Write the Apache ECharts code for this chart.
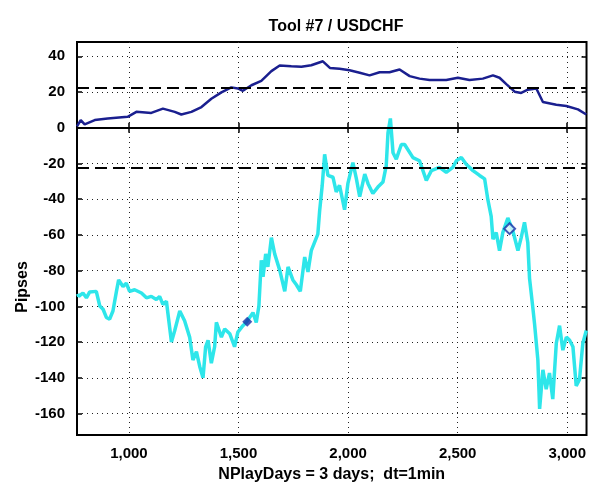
<!DOCTYPE html>
<html>
<head>
<meta charset="utf-8">
<script src="https://cdn.jsdelivr.net/npm/echarts@6/dist/echarts.min.js"></script>
<style>
  html, body { margin: 0; padding: 0; background: #fff; }
  #chart { width: 589px; height: 488px; }
</style>
</head>
<body>
<div id="chart"></div>
<script>
  // upper curve (dark blue)
  var blueX = [763, 780, 798, 844, 903, 994, 1034, 1102, 1155, 1209, 1239, 1285, 1331, 1376, 1422, 1467, 1497, 1520, 1559, 1604,
    1650, 1688, 1741, 1787, 1832, 1885, 1917, 1961, 2007, 2053, 2098, 2144, 2189, 2235, 2281, 2326, 2372, 2448, 2501, 2554,
    2615, 2661, 2691, 2722, 2760, 2790, 2820, 2859, 2889, 2950, 2996, 3049, 3087]
  var blueY = [0.7, 4.3, 1.9, 4.3, 5.2, 6.1, 8.9, 8.3, 10.7, 8.9, 7.4, 8.9, 11.6, 16.2, 19.8, 22.6, 22, 20.7, 23.8, 26.2,
    31.7, 34.8, 34.4, 34.1, 35, 37.2, 33.5, 33, 32.2, 30.8, 29.3, 31.1, 31.1, 32.6, 28.9, 27.5, 26.7, 26.7, 28, 26.7,
    27.5, 29.3, 28, 24.4, 20.2, 19.5, 21.3, 22, 14.4, 12.9, 12.2, 10.3, 7.4]

  // lower curve (cyan)
  var cyanX = [766, 771, 790, 806, 821, 851, 867, 882, 897, 912, 927, 943, 953, 973, 988, 1003, 1026, 1057, 1080, 1102,
    1125, 1140, 1155, 1171, 1194, 1209, 1232, 1254, 1277, 1292, 1308, 1323, 1338, 1350, 1361, 1376, 1391, 1399, 1422, 1437,
    1460, 1482, 1497, 1520, 1536, 1566, 1581, 1593, 1604, 1612, 1624, 1634, 1650, 1665, 1688, 1711, 1726, 1748, 1764, 1782,
    1802, 1817, 1832, 1847, 1862, 1870, 1882, 1893, 1908, 1931, 1946, 1961, 1984, 1999, 2022, 2038, 2053, 2076, 2091, 2113,
    2136, 2159, 2174, 2182, 2193, 2205, 2220, 2243, 2258, 2296, 2326, 2357, 2380, 2417, 2448, 2478, 2494, 2517, 2539, 2570,
    2600, 2623, 2638, 2653, 2661, 2676, 2691, 2706, 2729, 2752, 2775, 2790, 2805, 2820, 2828, 2843, 2851, 2866, 2874, 2889,
    2904, 2919, 2934, 2950, 2965, 2980, 2996, 3011, 3026, 3041, 3056, 3071, 3087]
  var cyanY = [-93, -94.4, -92.5, -95.2, -91.9, -91.6, -99.8, -101.6, -106.2, -107.1, -102.6, -91.6, -85.2, -88.9, -87, -91.6, -90.7, -92.5, -95.2, -94.4,
    -96.2, -94.4, -98.9, -97.1, -119.9, -113.5, -102.6, -108.1, -117.2, -130, -125.4, -133.6, -140, -122.6, -119, -131.8, -122.6, -108.9, -117.2, -112.6,
    -115.3, -122.6, -114.4, -110.8, -108.9, -103.5, -109, -99.8, -74.2, -83.4, -70.6, -77.9, -61.5, -70.6, -79.7, -91.6, -77.9, -85.2, -87.9, -91.6,
    -72.4, -80.7, -68.8, -64.2, -59.6, -46.8, -32.2, -14.9, -26.7, -27.7, -35.9, -32.2, -45.9, -31.3, -19.5, -28.6, -38.6, -25.9, -31.3, -36.8,
    -33.2, -30.4, -21.3, -3, 5.2, -14, -17.6, -9.4, -9.4, -16.7, -18.5, -29.5, -24, -22.2, -24.9, -22.2, -18.5, -16.7, -20.4, -24,
    -26.7, -28.6, -40.4, -49.6, -62.4, -58.7, -68.8, -58.7, -50.5, -57.8, -68.8, -61.5, -52.9, -64.2, -84.3, -100.7, -109.9, -130, -157.4, -135.5,
    -146.4, -137.3, -151.9, -120.8, -110.8, -124.5, -117.2, -119, -122.6, -144.5, -140.9, -120.8, -113.5]

  // markers
  var entryX = [1540]
  var entryY = [-108.6]
  var exitX = [2737]
  var exitY = [-56.5]

  // reference levels
  var zeroLevel = 0
  var bandLevels = [22.5, -22.5]

  // ticks
  var xTicks = [1000, 1500, 2000, 2500, 3000]
  var yTicks = [-160, -140, -120, -100, -80, -60, -40, -20, 0, 20, 40]

  function pairs (xs, ys) {
    var out = []
    for (var i = 0; i < xs.length; i++) {
      out.push([xs[i], ys[i]])
    }
    return out
  }

  var font = 'Liberation Sans, Arial, sans-serif'
  var tickText = { color: '#000', fontFamily: font, fontWeight: 'bold', fontSize: 15 }
  var dotted = { color: '#222', width: 1, type: [1, 4] }

  var levelLines = [{ yAxis: zeroLevel, lineStyle: { type: 'solid', width: 2, color: '#000' } }]
  bandLevels.forEach(function (v) {
    levelLines.push({ yAxis: v, lineStyle: { type: [12, 6], width: 2, color: '#000' } })
  })

  var chart = echarts.init(document.getElementById('chart'), null, { renderer: 'canvas' })
  var option = {
    animation: false,
    backgroundColor: '#fff',
    title: {
      text: 'Tool #7 / USDCHF',
      left: 331,
      top: 14,
      textAlign: 'center',
      textStyle: { color: '#000', fontFamily: font, fontWeight: 'bold', fontSize: 16 }
    },
    graphic: [{
      type: 'text',
      x: 23,
      y: 287,
      rotation: Math.PI / 2,
      style: {
        text: 'Pipses',
        fill: '#000',
        font: 'bold 16px ' + font,
        textAlign: 'center',
        textVerticalAlign: 'middle'
      }
    }],
    grid: {
      left: 77,
      right: 2,
      top: 42,
      bottom: 44,
      show: true,
      borderColor: '#000',
      borderWidth: 2,
      backgroundColor: '#fff'
    },
    xAxis: [{
      type: 'value',
      min: 763,
      max: 3088,
      name: 'NPlayDays = 3 days;  dt=1min',
      nameLocation: 'middle',
      nameGap: 32,
      nameTextStyle: { color: '#000', fontFamily: font, fontWeight: 'bold', fontSize: 16 },
      axisLine: { show: false },
      axisTick: { show: true, inside: true, length: 5, customValues: xTicks, lineStyle: { color: '#000', width: 1.5 } },
      axisLabel: {
        customValues: xTicks,
        margin: 11,
        ...tickText,
        formatter: function (v) { return v.toLocaleString('en-US') }
      },
      splitLine: { show: true, lineStyle: dotted }
    }, {
      type: 'value',
      position: 'top',
      min: 763,
      max: 3088,
      axisLine: { show: false },
      axisTick: { show: true, inside: true, length: 5, customValues: xTicks, lineStyle: { color: '#000', width: 1.5 } },
      axisLabel: { show: false },
      splitLine: { show: false }
    }],
    yAxis: [{
      type: 'value',
      min: -172,
      max: 48,
      axisLine: { show: false },
      axisTick: { show: true, inside: true, length: 5, customValues: yTicks, lineStyle: { color: '#000', width: 1.5 } },
      axisLabel: { customValues: yTicks, margin: 12, ...tickText },
      splitLine: { show: true, lineStyle: dotted }
    }, {
      type: 'value',
      position: 'right',
      min: -172,
      max: 48,
      axisLine: { show: false },
      axisTick: { show: true, inside: true, length: 5, customValues: yTicks, lineStyle: { color: '#000', width: 1.5 } },
      axisLabel: { show: false },
      splitLine: { show: false }
    }],
    series: [
      {
        name: 'lower',
        type: 'line',
        data: pairs(cyanX, cyanY),
        symbol: 'none',
        lineStyle: { color: '#2ee6ea', width: 3.5 },
        z: 2,
        markLine: {
          silent: true,
          symbol: 'none',
          label: { show: false },
          data: levelLines
        }
      },
      {
        name: 'upper',
        type: 'line',
        data: pairs(blueX, blueY),
        symbol: 'none',
        lineStyle: { color: '#1a1f8f', width: 2.5 },
        z: 3
      },
      {
        name: 'entry',
        type: 'scatter',
        data: pairs(entryX, entryY),
        symbol: 'diamond',
        symbolSize: 10,
        itemStyle: { color: '#1730a8' },
        z: 5
      },
      {
        name: 'exit',
        type: 'scatter',
        data: pairs(exitX, exitY),
        symbol: 'diamond',
        symbolSize: 11,
        itemStyle: { color: '#d8f4f8', borderColor: '#1730a8', borderWidth: 2 },
        z: 5
      }
    ]
  }
  chart.setOption(option)
</script>
</body>
</html>
